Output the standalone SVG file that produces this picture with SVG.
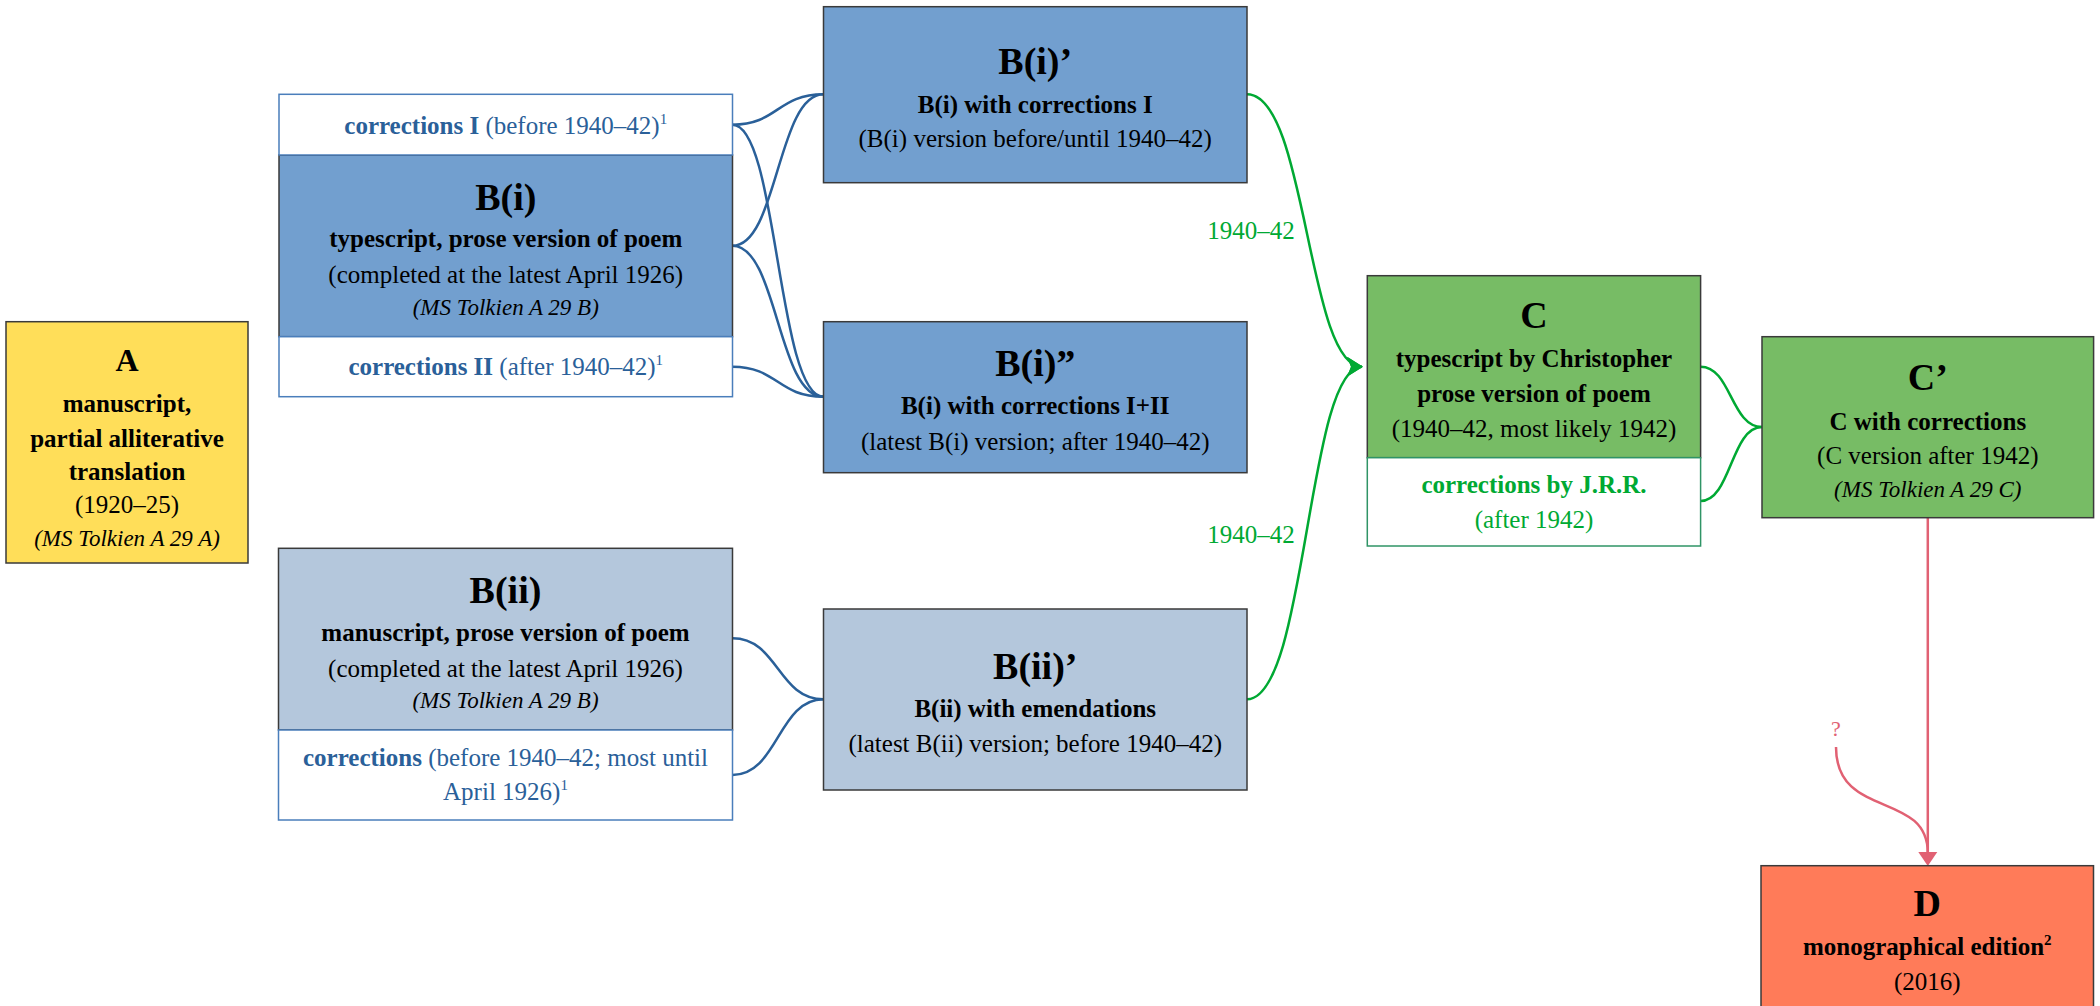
<svg xmlns="http://www.w3.org/2000/svg" width="2100" height="1006" viewBox="0 0 2100 1006">
<style>
text{font-family:"Liberation Serif","Times New Roman",serif;text-anchor:middle;fill:#000}
.t{font-size:38px;font-weight:bold}
.ta{font-size:32px;font-weight:bold}
.b{font-size:25px;font-weight:bold}
.r{font-size:25px}
.i{font-size:23px;font-style:italic}
.blue{fill:#2A6099}
.green{fill:#00A933}
.red{fill:#E16173}
.box{stroke:#3a3a3a;stroke-width:1.5}
.corr{fill:#fff;stroke:#4A7EBB;stroke-width:1.5}
.corrg{fill:#fff;stroke:#2F9466;stroke-width:1.5}
.cb{fill:none;stroke:#2A6099;stroke-width:2.5}
.cg{fill:none;stroke:#00A933;stroke-width:2.5}
.cr{fill:none;stroke:#E16173;stroke-width:2.5}
</style>
<defs>
<marker id="ag" viewBox="0 0 16 20" refX="15" refY="10" markerWidth="16" markerHeight="20" markerUnits="userSpaceOnUse" orient="auto">
<path d="M0,0 L16,10 L0,20 L4,10 Z" fill="#00A933"/>
</marker>
</defs>

<g id="connectors">
<path class="cb" d="M732.5,124.7 C777.5,124.7 777.5,94.3 823.5,94.3"/>
<path class="cb" d="M732.5,124.7 C777.5,124.7 777.5,396.7 823.5,396.7"/>
<path class="cb" d="M732.5,245.8 C777.5,245.8 777.5,94.3 823.5,94.3"/>
<path class="cb" d="M732.5,245.8 C777.5,245.8 777.5,396.7 823.5,396.7"/>
<path class="cb" d="M732.5,366.7 C777.5,366.7 777.5,396.7 823.5,396.7"/>
<path class="cb" d="M732.5,638.3 C778,638.3 778,699.3 823.5,699.3"/>
<path class="cb" d="M732.5,775 C778,775 778,699.3 823.5,699.3"/>
<path class="cg" d="M1247,94.3 C1307,94.3 1307,366.7 1362,366.7" marker-end="url(#ag)"/>
<path class="cg" d="M1247,699.3 C1307,699.3 1307,366.7 1362,366.7" marker-end="url(#ag)"/>
<path class="cg" d="M1700.6,366.7 C1731,366.7 1731,427 1762,427"/>
<path class="cg" d="M1700.6,501 C1731,501 1731,427 1762,427"/>
<path class="cr" d="M1927.8,518 L1927.8,853"/>
<path class="cr" d="M1836,747 C1836,820 1927.8,790 1927.8,853"/>
<path d="M1918.3,852 L1937.3,852 L1927.8,866 Z" fill="#E16173"/>
<text class="r green" x="1251" y="239.3">1940–42</text>
<text class="r green" x="1251" y="542.7">1940–42</text>
<text class="red" x="1836" y="736" font-size="22">?</text>
</g>

<g id="node-A">
<rect class="box" x="6" y="321.7" width="242" height="241.3" fill="#FFDE59"/>
<text class="ta" x="127" y="371">A</text>
<text class="b" x="127" y="412">manuscript,</text>
<text class="b" x="127" y="446.5">partial alliterative</text>
<text class="b" x="127" y="480">translation</text>
<text class="r" x="127" y="513">(1920–25)</text>
<text class="i" x="127" y="546">(MS Tolkien A 29 A)</text>
</g>

<g id="node-Bi">
<rect class="box" x="279" y="155" width="453.5" height="181.7" fill="#729FCF"/>
<text class="t" x="505.75" y="210">B(i)</text>
<text class="b" x="505.75" y="246.7">typescript, prose version of poem</text>
<text class="r" x="505.75" y="283">(completed at the latest April 1926)</text>
<text class="i" x="505.75" y="315">(MS Tolkien A 29 B)</text>
</g>
<g id="node-Bi-corrI">
<rect class="corr" x="279" y="94.3" width="453.5" height="60.7"/>
<text class="r blue" x="505.75" y="134"><tspan font-weight="bold">corrections I</tspan> (before 1940–42)<tspan font-size="15" dy="-10">1</tspan></text>
</g>
<g id="node-Bi-corrII">
<rect class="corr" x="279" y="336.7" width="453.5" height="60"/>
<text class="r blue" x="505.75" y="375"><tspan font-weight="bold">corrections II</tspan> (after 1940–42)<tspan font-size="15" dy="-10">1</tspan></text>
</g>

<g id="node-Bii">
<rect class="box" x="278.5" y="548.3" width="454" height="181.7" fill="#B4C7DC"/>
<text class="t" x="505.5" y="602.7">B(ii)</text>
<text class="b" x="505.5" y="641">manuscript, prose version of poem</text>
<text class="r" x="505.5" y="676.7">(completed at the latest April 1926)</text>
<text class="i" x="505.5" y="708.3">(MS Tolkien A 29 B)</text>
</g>
<g id="node-Bii-corr">
<rect class="corr" x="278.5" y="730" width="454" height="90"/>
<text class="r blue" x="505.5" y="766"><tspan font-weight="bold">corrections</tspan> (before 1940–42; most until</text>
<text class="r blue" x="505.5" y="800">April 1926)<tspan font-size="15" dy="-10">1</tspan></text>
</g>

<g id="node-Bi1">
<rect class="box" x="823.5" y="6.7" width="423.5" height="176" fill="#729FCF"/>
<text class="t" x="1035.25" y="74">B(i)’</text>
<text class="b" x="1035.25" y="112.7">B(i) with corrections I</text>
<text class="r" x="1035.25" y="147.3">(B(i) version before/until 1940–42)</text>
</g>

<g id="node-Bi2">
<rect class="box" x="823.5" y="321.7" width="423.5" height="151" fill="#729FCF"/>
<text class="t" x="1035.25" y="376">B(i)”</text>
<text class="b" x="1035.25" y="414.3">B(i) with corrections I+II</text>
<text class="r" x="1035.25" y="450">(latest B(i) version; after 1940–42)</text>
</g>

<g id="node-Bii1">
<rect class="box" x="823.5" y="609" width="423.5" height="181" fill="#B4C7DC"/>
<text class="t" x="1035.25" y="679">B(ii)’</text>
<text class="b" x="1035.25" y="716.7">B(ii) with emendations</text>
<text class="r" x="1035.25" y="751.7">(latest B(ii) version; before 1940–42)</text>
</g>

<g id="node-C">
<rect class="box" x="1367.3" y="275.7" width="333.3" height="182" fill="#77BC65"/>
<text class="t" x="1534" y="328.3" font-size="36">C</text>
<text class="b" x="1534" y="366.7">typescript by Christopher</text>
<text class="b" x="1534" y="401.7">prose version of poem</text>
<text class="r" x="1534" y="436.7">(1940–42, most likely 1942)</text>
</g>
<g id="node-C-corr">
<rect class="corrg" x="1367.3" y="457.7" width="333.3" height="88.3"/>
<text class="b green" x="1534" y="493.3">corrections by J.R.R.</text>
<text class="r green" x="1534" y="528.3">(after 1942)</text>
</g>

<g id="node-C1">
<rect class="box" x="1762" y="336.7" width="331.6" height="181" fill="#77BC65"/>
<text class="t" x="1927.8" y="390" font-size="36">C’</text>
<text class="b" x="1927.8" y="430">C with corrections</text>
<text class="r" x="1927.8" y="464">(C version after 1942)</text>
<text class="i" x="1927.8" y="496.7">(MS Tolkien A 29 C)</text>
</g>

<g id="node-D">
<rect class="box" x="1761" y="865.7" width="332.5" height="150" fill="#FF7B59"/>
<text class="t" x="1927.3" y="916">D</text>
<text class="b" x="1927.3" y="955">monographical edition<tspan font-size="15" dy="-10">2</tspan></text>
<text class="r" x="1927.3" y="990">(2016)</text>
</g>
</svg>
